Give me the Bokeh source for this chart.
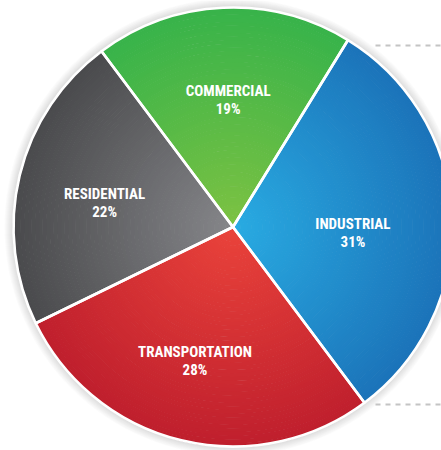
import numpy as np
from bokeh.plotting import figure
from bokeh.models import ColumnDataSource, Range1d
from bokeh.embed import file_html
from bokeh.resources import INLINE
from bokeh.core.properties import value

# ---- data ----
categories = ["INDUSTRIAL", "COMMERCIAL", "RESIDENTIAL", "TRANSPORTATION"]
shares = [31, 19, 22, 28]
pct_labels = ["31%", "19%", "22%", "28%"]

# ---- style ----
inner_colors = ["#29abe2", "#7dc242", "#85868a", "#ea433b"]
outer_colors = ["#1b73b9", "#37b34a", "#4a4a4c", "#bf1f2d"]
label_radius_frac = [0.547, 0.577, 0.595, 0.636]
label_angle_shift = [-5.3, -0.4, 3.1, -2.2]   # degrees
start_deg = -53.2
R = 219.5
CX, CY = 232.5, 226.5          # pie centre in picture pixels
W, H = 441, 450

def hex2rgb(h):
    h = h.lstrip("#")
    return np.array([int(h[i:i + 2], 16) for i in (0, 2, 4)], dtype=float)

def rgb2hex(c):
    return "#%02x%02x%02x" % tuple(int(round(v)) for v in c)

p = figure(width=W, height=H, output_backend="svg", toolbar_location=None,
           x_range=Range1d(-CX, W - CX), y_range=Range1d(CY - H, CY),
           min_border=0, outline_line_color=None, background_fill_color="white",
           border_fill_color="white")
p.xaxis.visible = False
p.yaxis.visible = False
p.grid.visible = False

# soft shadow
n_sh = 9
p.circle(x=[0] * n_sh, y=[0] * n_sh, radius=[R + 1 + k for k in range(n_sh)][::-1],
         fill_color="#7a7a7a", fill_alpha=0.028, line_color=None)

# slice angles from data
total = float(sum(shares))
bounds = np.radians(start_deg + 360.0 * np.concatenate([[0], np.cumsum(shares)]) / total)
starts, ends = bounds[:-1], bounds[1:]

# radial gradient rings
n_r = 60
ring = dict(sa=[], ea=[], ir=[], orad=[], col=[])
for i in range(len(shares)):
    c0, c1 = hex2rgb(inner_colors[i]), hex2rgb(outer_colors[i])
    for k in range(n_r):
        t = (k + 0.5) / n_r
        ring["sa"].append(starts[i])
        ring["ea"].append(ends[i])
        ring["ir"].append(R * k / n_r)
        ring["orad"].append(R * (k + 1) / n_r + 0.6)
        ring["col"].append(rgb2hex(c0 + (c1 - c0) * t))
p.annular_wedge(x=0, y=0, inner_radius="ir", outer_radius="orad", start_angle="sa",
                end_angle="ea", fill_color="col", line_color=None,
                source=ColumnDataSource(ring))

# white separators and rim
p.wedge(x=0, y=0, radius=R, start_angle=list(starts), end_angle=list(ends),
        fill_alpha=0, line_color="white", line_width=2.6)

# dashed guide lines at the industrial slice's edges
ys = [R * np.sin(ends[0]) - 5.5, R * np.sin(starts[0]) - 1.7]
p.segment(x0=[375 - CX] * 2, y0=ys, x1=[445 - CX] * 2, y1=ys,
          line_color="#c4c4c4", line_width=2, line_dash="5 5")

# labels
mid = (starts + ends) / 2 + np.radians(label_angle_shift)
lr = R * np.array(label_radius_frac)
lx = lr * np.cos(mid)
ly = lr * np.sin(mid)
src = ColumnDataSource(dict(x=lx, y1=ly + 9, y2=ly - 9, name=categories, pct=pct_labels))
font = value("Roboto Condensed, DejaVu Sans Condensed, Roboto")
p.text(x="x", y="y1", text="name", source=src, text_font=font, text_font_style="bold",
       text_font_size="15px", text_color="white", text_align="center",
       text_baseline="middle")
p.text(x="x", y="y2", text="pct", source=src, text_font=font, text_font_style="bold",
       text_font_size="15px", text_color="white", text_align="center",
       text_baseline="middle")

open("out.html", "w").write(file_html(p, INLINE))
